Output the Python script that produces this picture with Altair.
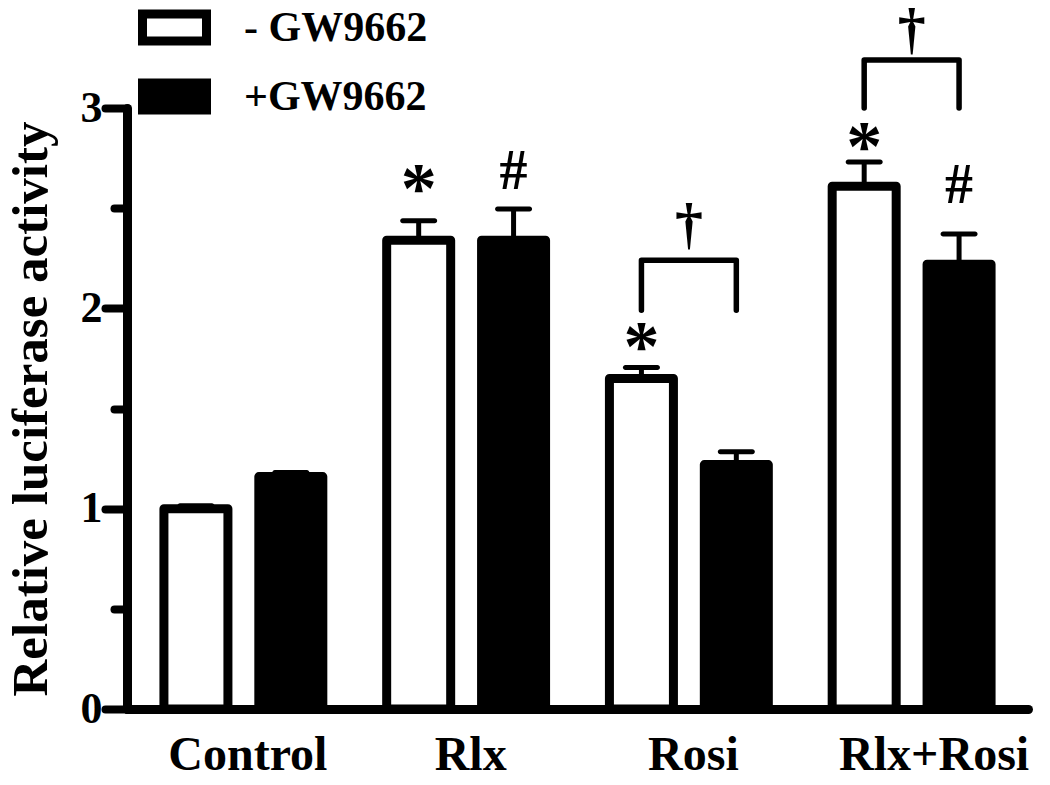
import json
import altair as alt
import pandas as pd

# ---------------- data ----------------
groups = ["Control", "Rlx", "Rosi", "Rlx+Rosi"]
series = ["- GW9662", "+GW9662"]
mean_minus = [1.00, 2.34, 1.65, 2.61]
sem_minus = [0.015, 0.097, 0.055, 0.121]
mean_plus = [1.16, 2.34, 1.22, 2.22]
sem_plus = [0.02, 0.156, 0.064, 0.151]

# significance markers above bars
mark_group = ["Rlx", "Rlx", "Rosi", "Rlx+Rosi", "Rlx+Rosi"]
mark_series = ["- GW9662", "+GW9662", "- GW9662", "- GW9662", "+GW9662"]
mark_symbol = ["*", "#", "*", "*", "#"]
mark_y = [2.66, 2.69, 1.87, 2.87, 2.62]

# brackets (between - and + bars) with dagger
bracket_group = ["Rosi", "Rlx+Rosi"]
bracket_top = [2.24, 3.24]
bracket_bottom = [1.99, 3.0]
dagger_y = [2.41, 3.385]

# ---------------- tables ----------------
OFF = 0.213  # half distance between paired bars (in group units)
FONT = "Liberation Serif"

rows = []
for gi, g in enumerate(groups):
    rows.append(dict(group=g, series=series[0], x=gi - OFF, mean=mean_minus[gi],
                     top=mean_minus[gi] + sem_minus[gi]))
    rows.append(dict(group=g, series=series[1], x=gi + OFF, mean=mean_plus[gi],
                     top=mean_plus[gi] + sem_plus[gi]))
bars_df = pd.DataFrame(rows)

ann_df = pd.DataFrame(dict(
    x=[groups.index(g) + (-OFF if s == series[0] else OFF) for g, s in zip(mark_group, mark_series)],
    y=mark_y, label=mark_symbol))
stars_df = ann_df[ann_df["label"] == "*"]
hash_df = ann_df[ann_df["label"] == "#"]

br_rows = []
for b, g in enumerate(bracket_group):
    gi = groups.index(g)
    pts = [(gi - OFF, bracket_bottom[b]), (gi - OFF, bracket_top[b]),
           (gi + OFF, bracket_top[b]), (gi + OFF, bracket_bottom[b])]
    for k, (px, py) in enumerate(pts):
        br_rows.append(dict(bracket=g, order=k, x=px, y=py))
br_df = pd.DataFrame(br_rows)

dag_df = pd.DataFrame(dict(x=[groups.index(g) for g in bracket_group], y=dagger_y, label=["†"] * 2))

# ---------------- scales / axes ----------------
xscale = alt.Scale(domain=[-0.5, len(groups) - 0.5], nice=False, zero=False)
yscale = alt.Scale(domain=[0, 3], nice=False)

x_axis = alt.Axis(
    values=list(range(len(groups))),
    labelExpr=f"{json.dumps(groups)}[datum.value]",
    ticks=False, tickSize=0, grid=False,
    domainColor="black", domainWidth=9, domainCap="round",
    labelFont=FONT, labelFontSize=48, labelFontWeight="bold", labelColor="black",
    labelPadding=22, labelFlush=False, labelOverlap=False, labelLimit=400, title=None,
    labelOffset={"condition": {"test": "datum.value === 3", "value": 22}, "value": 4},
)
y_axis = alt.Axis(
    values=[0, 0.5, 1, 1.5, 2, 2.5, 3],
    labelExpr="datum.value % 1 === 0 ? format(datum.value, 'd') : ''",
    tickSize={"condition": {"test": "datum.value % 1 === 0", "value": 22}, "value": 13},
    tickWidth=8, tickColor="black", tickCap="round", grid=False,
    domainColor="black", domainWidth=9, domainCap="round",
    labelFont=FONT, labelFontSize=44, labelFontWeight="bold", labelColor="black",
    labelPadding=3, labelOverlap=False,
    title="Relative luciferase activity",
    titleFont=FONT, titleFontSize=51, titleFontWeight="bold", titleColor="black",
    titlePadding=23,
)

X = alt.X("x:Q", scale=xscale, axis=x_axis)

bars = alt.Chart(bars_df).mark_bar(size=64, stroke="black", strokeWidth=9, strokeJoin="round").encode(
    x=X,
    y=alt.Y("mean:Q", scale=yscale, axis=y_axis),
    fill=alt.Fill("series:N", scale=alt.Scale(domain=series, range=["white", "black"]),
                  legend=alt.Legend(
                      title=None, orient="none", legendX=11, legendY=-117, padding=0,
                      symbolType="M-1,-0.42H1V0.42H-1Z", symbolSize=4096,
                      symbolStrokeColor="black", symbolStrokeWidth=9,
                      labelFont=FONT, labelFontSize=42, labelFontWeight="bold", labelColor="black",
                      labelOffset=33, labelLimit=400, rowPadding=1)),
)

err = alt.Chart(bars_df).mark_rule(color="black", strokeWidth=5, opacity=1).encode(
    x=X, y=alt.Y("mean:Q", scale=yscale), y2="top:Q")
caps = alt.Chart(bars_df).mark_tick(color="black", size=37, thickness=5, orient="horizontal",
                                    cornerRadius=2.5, opacity=1).encode(
    x=X, y=alt.Y("top:Q", scale=yscale))

stars = alt.Chart(stars_df).mark_text(font=FONT, fontWeight="bold", color="black", baseline="middle",
                                      fontSize=72, dy=14).encode(
    x=X, y=alt.Y("y:Q", scale=yscale), text="label:N")
hashes = alt.Chart(hash_df).mark_text(font=FONT, fontWeight="bold", color="black", baseline="middle",
                                      fontSize=56, dy=2).encode(
    x=X, y=alt.Y("y:Q", scale=yscale), text="label:N")

brackets = alt.Chart(br_df).mark_line(color="black", strokeWidth=5.5, strokeCap="round",
                                      strokeJoin="round").encode(
    x=X, y=alt.Y("y:Q", scale=yscale), detail="bracket:N", order="order:Q")

daggers = alt.Chart(dag_df).mark_text(font=FONT, fontWeight="bold", color="black", baseline="middle",
                                      fontSize=56).encode(
    x=X, y=alt.Y("y:Q", scale=yscale), text="label:N")

chart = alt.layer(bars, err, caps, stars, hashes, brackets, daggers).properties(
    width=901, height=601,
    autosize=alt.AutoSizeParams(type="none"),
    padding={"left": 119, "top": 100, "right": 14, "bottom": 76},
    background="white",
).configure_view(stroke=None)

chart.save("out.html", embed_options={"renderer": "svg", "actions": False})
